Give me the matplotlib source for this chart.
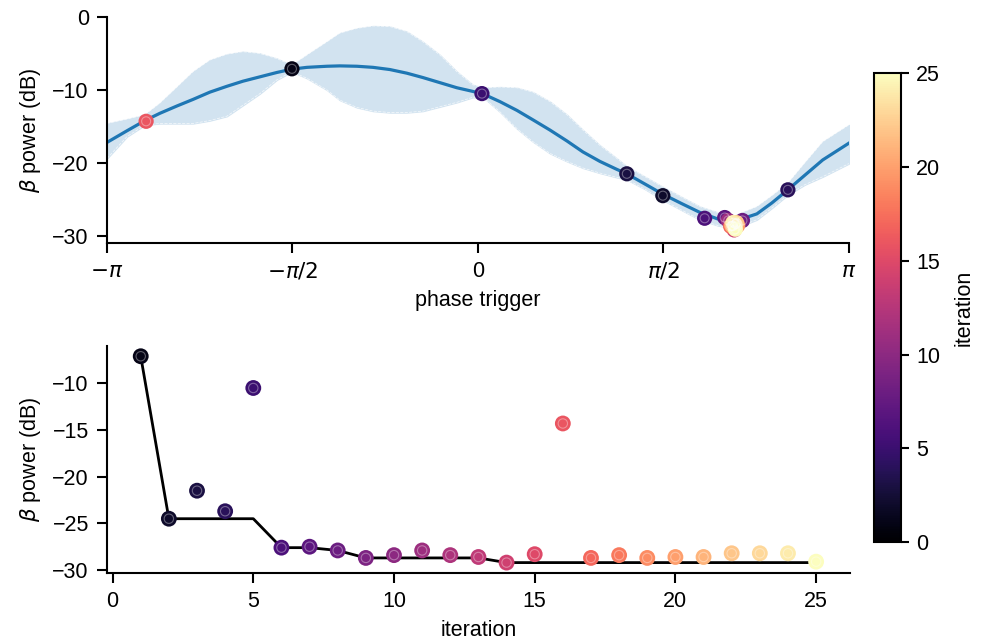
import numpy as np
import matplotlib
matplotlib.use("Agg")
import matplotlib.pyplot as plt

plt.rcParams['font.family'] = ['Liberation Sans', 'DejaVu Sans']
plt.rcParams['font.size'] = 15.5

# observed samples, one per iteration
iterations = np.arange(1, 26)
power_db = np.array([-7.1, -24.5, -21.5, -23.7, -10.5, -27.6, -27.5, -27.9, -28.7, -28.4,
                     -27.9, -28.4, -28.6, -29.2, -28.3, -14.3, -28.7, -28.4, -28.7, -28.6,
                     -28.6, -28.2, -28.2, -28.2, -29.1])
phase = np.array([-1.575, 1.566, 1.261, 2.625, 0.034, 1.92, 2.09, 2.24, 2.15, 2.18,
                  2.12, 2.20, 2.16, 2.17, 2.19, -2.81, 2.14, 2.18, 2.16, 2.20,
                  2.15, 2.19, 2.17, 2.16, 2.18])

# GP posterior: mean and confidence band
gp_phase = [-3.1416, -2.972, -2.820, -2.693, -2.549, -2.413, -2.270, -2.126, -1.990, -1.846,
            -1.702, -1.575, -1.448, -1.279, -1.169, -1.025, -0.889, -0.746, -0.602, -0.466,
            -0.322, -0.178, -0.043, 0.051, 0.186, 0.330, 0.466, 0.610, 0.754, 0.889,
            1.033, 1.177, 1.261, 1.414, 1.566, 1.727, 1.880, 2.032, 2.176, 2.362,
            2.489, 2.624, 2.768, 2.920, 3.1416]
gp_mean = [-17.2, -15.6, -14.2, -13.2, -12.2, -11.3, -10.3, -9.5, -8.8, -8.2,
           -7.6, -7.15, -6.9, -6.75, -6.7, -6.75, -6.9, -7.2, -7.7, -8.3,
           -9.0, -9.7, -10.2, -10.6, -11.6, -12.8, -14.1, -15.5, -17.0, -18.5,
           -19.8, -20.9, -21.5, -22.9, -24.3, -25.6, -26.8, -27.7, -28.0, -27.0,
           -25.5, -23.7, -21.7, -19.6, -17.3]
gp_upper = [-14.6, -14.0, -13.4, -11.8, -9.6, -7.5, -5.9, -5.1, -4.75, -5.0,
            -5.7, -6.6, -5.2, -3.4, -2.2, -1.55, -1.23, -1.3, -2.0, -3.4,
            -5.2, -7.5, -9.3, -9.7, -9.6, -9.7, -10.3, -11.6, -13.4, -15.5,
            -17.6, -19.4, -20.5, -21.9, -23.3, -24.7, -26.0, -26.8, -27.2, -26.0,
            -24.5, -22.8, -20.0, -17.1, -14.8]
gp_lower = [-19.4, -16.4, -14.8, -14.6, -14.6, -14.6, -14.2, -13.6, -12.1, -10.5,
            -8.6, -7.5, -8.4, -10.0, -11.4, -12.4, -12.9, -13.1, -13.1, -12.9,
            -12.3, -11.7, -11.0, -11.1, -13.0, -15.3, -17.1, -18.7, -19.8, -20.7,
            -21.4, -22.0, -22.3, -23.6, -25.1, -26.5, -27.8, -28.6, -29.0, -27.8,
            -26.2, -24.4, -23.0, -21.9, -20.1]

best_so_far = np.minimum.accumulate(power_db)

cmap = 'magma'
vmin, vmax = 0, 25

fig = plt.figure(figsize=(9.84, 6.43), dpi=100)
ax1 = fig.add_axes([0.1087, 0.622, 0.754, 0.3515])
ax2 = fig.add_axes([0.1087, 0.109, 0.755, 0.353])
cax = fig.add_axes([0.888, 0.157, 0.0274, 0.729])


def style(ax):
    for s in ['top', 'right']:
        ax.spines[s].set_visible(False)
    for s in ['left', 'bottom']:
        ax.spines[s].set_linewidth(1.5)
    ax.tick_params(width=1.5, length=7, pad=6)


def dots(ax, x, y, c, s=130):
    sc = ax.scatter(x, y, c=c, cmap=cmap, vmin=vmin, vmax=vmax, s=s, zorder=3, linewidths=0)
    ax.scatter(x, y, s=s * 0.35, facecolors='none', edgecolors='white', linewidths=0.8,
               alpha=0.35, zorder=4)
    return sc


# top: phase vs power
ax1.fill_between(gp_phase, gp_lower, gp_upper, color='#d2e3f0', zorder=1)
ax1.plot(gp_phase, gp_upper, color='white', lw=0.6, ls='--', alpha=0.7, zorder=1)
ax1.plot(gp_phase, gp_lower, color='white', lw=0.6, ls='--', alpha=0.7, zorder=1)
ax1.plot(gp_phase, gp_mean, color='#1f77b4', lw=2.3, zorder=2)
sc = dots(ax1, phase, power_db, iterations, s=120)
ax1.set_xlim(-np.pi, np.pi)
ax1.set_ylim(-31, 0)
ax1.set_xticks([-np.pi, -np.pi / 2, 0, np.pi / 2, np.pi])
ax1.set_xticklabels([r'$-\pi$', r'$-\pi/2$', '0', r'$\pi/2$', r'$\pi$'])
ax1.set_yticks([0, -10, -20, -30])
ax1.set_xlabel('phase trigger', labelpad=6)
ax1.set_ylabel(r'$\beta$ power (dB)', labelpad=7)
style(ax1)

# bottom: power per iteration
ax2.plot(iterations, best_so_far, color='black', lw=2, zorder=2)
dots(ax2, iterations, power_db, iterations, s=130)
ax2.set_xticks([0, 5, 10, 15, 20, 25])
ax2.set_yticks([-10, -15, -20, -25, -30])
ax2.set_xlabel('iteration', labelpad=6)
ax2.set_ylabel(r'$\beta$ power (dB)', labelpad=7)
style(ax2)

cb = fig.colorbar(sc, cax=cax)
cb.set_label('iteration', labelpad=10)
cb.set_ticks([0, 5, 10, 15, 20, 25])
cb.outline.set_linewidth(1.5)
cax.tick_params(width=1.5, length=6, pad=5)

fig.savefig('out.png', dpi=100)
